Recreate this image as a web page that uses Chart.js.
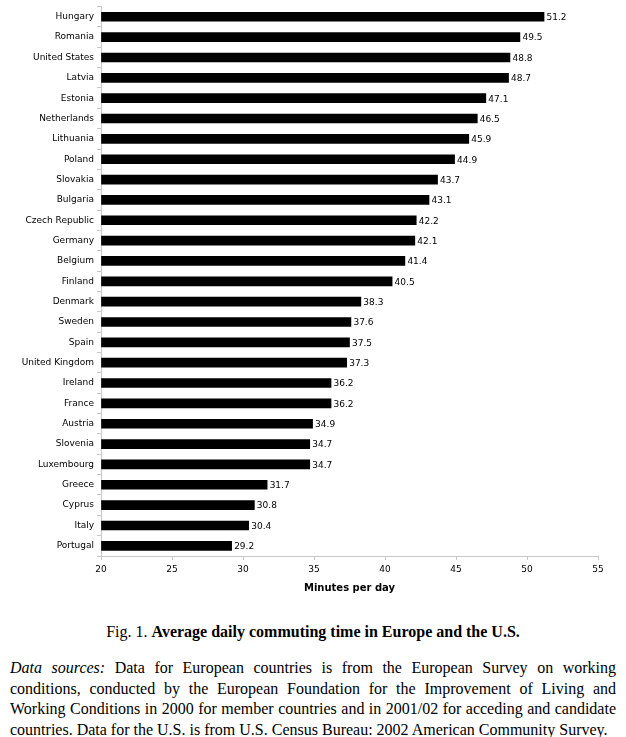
<!DOCTYPE html>
<html>
<head>
<meta charset="utf-8">
<script src="https://cdn.jsdelivr.net/npm/chart.js@4"></script>
<style>
  body { margin: 0; background: #fff; width: 626px; }
  #wrap { width: 626px; height: 600px; position: relative; }
  .caption { font-family: "Liberation Serif", serif; font-size: 16px; text-align: center; margin: 23px 0 0 0; }
  .sources { font-family: "Liberation Serif", serif; font-size: 16px; line-height: 20.5px; margin: 17px 10px 0 10px; }
  .sources div { text-align: justify; text-align-last: justify; white-space: nowrap; }
  .sources div.last { text-align-last: left; }
</style>
</head>
<body>
<div id="wrap"><canvas id="commuteChart"></canvas></div>
<div class="caption">Fig. 1. <b>Average daily commuting time in Europe and the U.S.</b></div>
<div class="sources">
  <div><i>Data sources:</i> Data for European countries is from the European Survey on working</div>
  <div>conditions, conducted by the European Foundation for the Improvement of Living and</div>
  <div>Working Conditions in 2000 for member countries and in 2001/02 for acceding and candidate</div>
  <div class="last">countries. Data for the U.S. is from U.S. Census Bureau: 2002 American Community Survey.</div>
</div>
<script>
const countries = ['Hungary', 'Romania', 'United States', 'Latvia', 'Estonia', 'Netherlands', 'Lithuania',
  'Poland', 'Slovakia', 'Bulgaria', 'Czech Republic', 'Germany', 'Belgium', 'Finland', 'Denmark', 'Sweden',
  'Spain', 'United Kingdom', 'Ireland', 'France', 'Austria', 'Slovenia', 'Luxembourg', 'Greece', 'Cyprus',
  'Italy', 'Portugal'];
const minutes = [51.2, 49.5, 48.8, 48.7, 47.1, 46.5, 45.9, 44.9, 43.7, 43.1, 42.2, 42.1, 41.4, 40.5, 38.3,
  37.6, 37.5, 37.3, 36.2, 36.2, 34.9, 34.7, 34.7, 31.7, 30.8, 30.4, 29.2];
const xTicks = [20, 25, 30, 35, 40, 45, 50, 55];

const font = { family: '"DejaVu Sans", Verdana, sans-serif', size: 9 };

// value labels to the right of each bar
const valueLabels = {
  id: 'valueLabels',
  afterDatasetsDraw(chart) {
    const ctx = chart.ctx;
    const meta = chart.getDatasetMeta(0);
    ctx.save();
    ctx.font = font.size + 'px ' + font.family;
    ctx.fillStyle = '#000';
    ctx.textAlign = 'left';
    ctx.textBaseline = 'middle';
    meta.data.forEach((bar, i) => {
      ctx.fillText(minutes[i].toFixed(1), bar.x + 2.5, bar.y + 1);
    });
    ctx.restore();
  }
};

new Chart(document.getElementById('commuteChart'), {
  type: 'bar',
  data: {
    labels: countries,
    datasets: [{
      data: minutes,
      backgroundColor: '#000',
      borderWidth: 0,
      barThickness: 9,
      base: 20
    }]
  },
  options: {
    indexAxis: 'y',
    responsive: true,
    maintainAspectRatio: false,
    animation: false,
    layout: { padding: { top: 6, right: 28, bottom: 6, left: 0 } },
    plugins: {
      legend: { display: false },
      tooltip: { enabled: false }
    },
    scales: {
      x: {
        min: 20,
        max: 55,
        afterBuildTicks: scale => { scale.ticks = xTicks.map(v => ({ value: v })); },
        afterFit: scale => { scale.height = 38; },
        grid: { drawOnChartArea: false, color: '#c8c8c8', tickLength: 4 },
        border: { color: '#c8c8c8' },
        ticks: { color: '#000', font: font, padding: 4, maxRotation: 0 },
        title: { display: true, text: 'Minutes per day', color: '#000', padding: 0,
          font: { family: font.family, size: 10, weight: 'bold' } }
      },
      y: {
        afterFit: scale => { scale.width = 101; },
        grid: { drawOnChartArea: false, offset: true, color: '#c8c8c8', tickLength: 4 },
        border: { color: '#c8c8c8' },
        ticks: { color: '#000', font: { family: font.family, size: 9, lineHeight: 0.8 }, padding: 3, autoSkip: false }
      }
    }
  },
  plugins: [valueLabels]
});
</script>
</body>
</html>
